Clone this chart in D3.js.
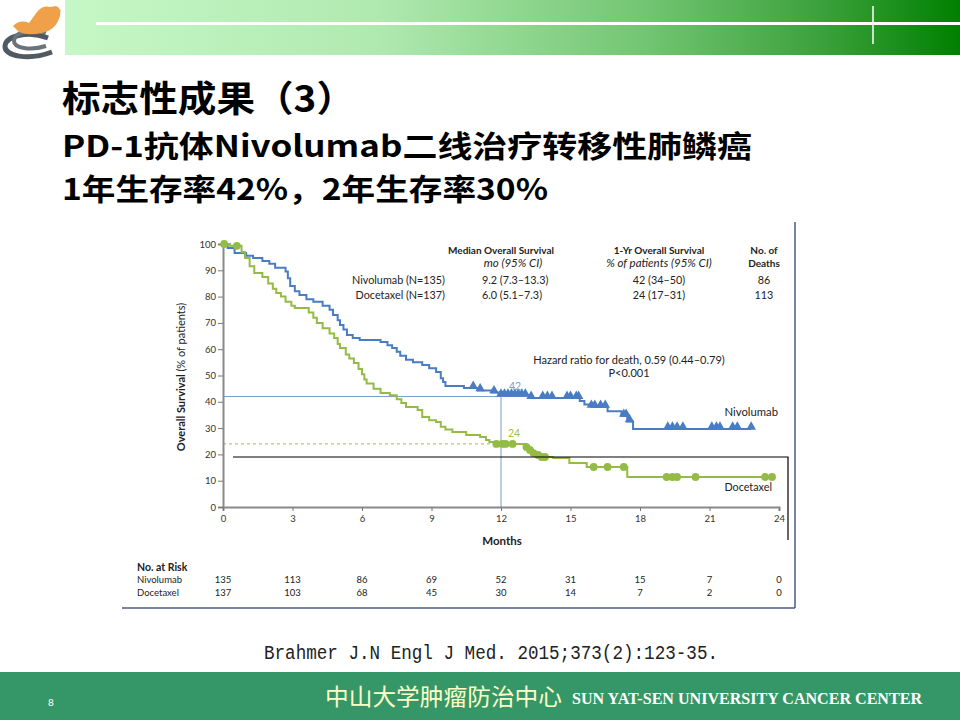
<!DOCTYPE html>
<html>
<head>
<meta charset="utf-8">
<script src="https://cdn.jsdelivr.net/npm/d3@7"></script>
<style>
  body { margin: 0; background: #fff; }
  svg { display: block; }
</style>
</head>
<body>
<div id="chart"></div>
<script>
// 数据：生存曲线阶梯点 [月, %]
const nivoSteps = [[0,100],[0.2,98.5],[0.5,96.6],[1.0,95.5],[1.3,94.7],[1.7,93.5],[2.0,92.5],[2.25,91],[2.7,89.5],[2.8,87],[2.9,84],[3.1,82],[3.3,80.6],[3.6,79],[3.9,78],[4.3,76.5],[4.6,75],[4.75,73],[4.95,71],[5.05,69.2],[5.2,67.5],[5.35,65.4],[5.6,64.3],[5.9,63.5],[6.8,62.7],[7.1,61.5],[7.3,60.5],[7.5,59],[7.65,57.5],[7.9,56],[8.2,55],[8.6,54],[8.9,52.8],[9.2,51.3],[9.4,49],[9.5,47.5],[9.6,46],[10.4,45.2],[11.0,44.3],[11.6,43.5],[11.9,42.3],[13.2,41.4],[15.4,40.3],[15.6,39],[15.9,38],[16.6,36.4],[17.2,34.6],[17.45,32.5],[17.7,29.7]];
const nivoEnd = 22.8;
const nivoCensor = [10.8,11.1,11.7,12.0,12.15,12.3,12.45,12.6,12.75,12.9,13.05,13.3,13.8,14.0,14.2,14.85,15.0,15.25,15.35,15.9,16.05,16.3,16.5,17.3,17.4,17.55,19.2,19.4,19.6,19.85,21.1,21.3,21.45,22.0,22.2,22.8];

const doceSteps = [[0,100],[0.3,99.3],[0.8,97],[0.95,94.7],[1.15,91.5],[1.35,89],[1.7,87.5],[1.95,85],[2.15,83],[2.3,81.4],[2.5,80],[2.7,78],[2.95,76.5],[3.1,75.7],[3.7,74],[3.9,72],[4.05,70],[4.3,68],[4.6,66],[4.8,64.3],[4.95,62],[5.05,60.5],[5.3,58],[5.45,56.5],[5.65,54.8],[5.85,52.5],[6.0,50.5],[6.1,48.5],[6.2,47],[6.5,45],[6.8,43.3],[7.2,42.5],[7.5,41],[7.7,39.5],[7.9,38],[8.4,36.9],[8.6,34.2],[8.9,33],[9.2,32.3],[9.4,30.5],[9.6,29.5],[9.9,28.5],[10.5,27.4],[11.1,26.6],[11.35,25.5],[11.5,24.7],[11.75,24],[13.1,22.8],[13.2,21.7],[13.35,20.5],[13.5,19.8],[13.65,19],[14.25,18.6],[14.95,16.7],[15.7,15.2],[17.45,11.4]];
const doceEnd = 23.7;
const doceCensor = [0.05,0.6,11.8,12.05,12.2,12.5,13.1,13.25,13.4,13.6,13.75,13.9,16.0,16.6,17.3,19.15,19.4,19.6,20.4,23.4,23.7];

// 轴刻度
const xTicks = [0,3,6,9,12,15,18,21,24];
const yTicks = [0,10,20,30,40,50,60,70,80,90,100];

// 风险人数
const riskGroups = ['Nivolumab','Docetaxel'];
const riskNivo = [135,113,86,69,52,31,15,7,0];
const riskDoce = [137,103,68,45,30,14,7,2,0];

// 图例表格
const legendRows = [
  { name: 'Nivolumab (N=135)', median: '9.2 (7.3–13.3)', oneYr: '42 (34–50)', deaths: '86' },
  { name: 'Docetaxel (N=137)', median: '6.0 (5.1–7.3)', oneYr: '24 (17–31)', deaths: '113' }
];
const oneYrRates = [42, 24];

const titleLines = ['标志性成果（3）', 'PD-1抗体Nivolumab二线治疗转移性肺鳞癌', '1年生存率42%，2年生存率30%'];

// svg领域设定
const svgWidth = 960;
const svgHeight = 720;
const svg = d3.select('#chart')
  .append('svg')
  .attr('width', svgWidth)
  .attr('height', svgHeight);

// 页眉渐变
const defs = svg.append('defs');
const grad = defs.append('linearGradient').attr('id', 'hdr');
[[0,'#c6f7c6'],[0.35,'#b0e9b0'],[0.65,'#72c572'],[0.85,'#3aa03a'],[1,'#008000']].forEach(s => {
  grad.append('stop').attr('offset', s[0]).attr('stop-color', s[1]);
});
svg.append('rect').attr('x', 65).attr('y', 0).attr('width', 895).attr('height', 55).attr('fill', 'url(#hdr)');
svg.append('rect').attr('x', 96).attr('y', 22).attr('width', 864).attr('height', 3).attr('fill', '#fff');
svg.append('line').attr('x1', 873).attr('x2', 873).attr('y1', 6).attr('y2', 44)
  .attr('stroke', '#fff').attr('stroke-width', 1.5);

// logo
const logo = svg.append('g');
logo.append('path')
  .attr('d', 'M48 38 C28 30 6 36 5 46 C4 56 28 61 52 52')
  .attr('fill', 'none').attr('stroke', '#505a62').attr('stroke-width', 5);
logo.append('path')
  .attr('d', 'M46 33 C30 27 14 33 14 41 C14 48 30 51 46 46')
  .attr('fill', 'none').attr('stroke', '#6a747c').attr('stroke-width', 4);
logo.append('path')
  .attr('d', 'M13 26 Q20 19 29 23 L37 12 Q43 5 50 7 L56 6 Q62 8 60 16 Q56 30 42 33 Q28 36 19 32 Z')
  .attr('fill', '#f0a048');

// 标题
const titleSpec = [
  { y: 112, size: 36, len: 293 },
  { y: 157, size: 29.5, len: 690 },
  { y: 200, size: 29.5, len: 486 }
];
svg.selectAll('.title')
  .data(titleLines)
  .enter()
  .append('text')
  .attr('class', 'title')
  .attr('x', 62)
  .attr('y', (d, i) => titleSpec[i].y)
  .attr('font-family', '"Noto Sans CJK SC", sans-serif')
  .attr('font-weight', 'bold')
  .attr('font-size', (d, i) => titleSpec[i].size)
  .attr('textLength', (d, i) => titleSpec[i].len)
  .attr('lengthAdjust', 'spacingAndGlyphs')
  .attr('fill', '#000')
  .text(d => d);

// 图框
svg.append('line').attr('x1', 122).attr('x2', 795).attr('y1', 608).attr('y2', 608)
  .attr('stroke', '#4a5886').attr('stroke-width', 1.5);
svg.append('line').attr('x1', 795).attr('x2', 795).attr('y1', 222).attr('y2', 608)
  .attr('stroke', '#4a5886').attr('stroke-width', 1.5);

// scale设定
const x = d3.scaleLinear().domain([0, 24]).range([223, 779]);
const y = d3.scaleLinear().domain([0, 100]).range([507, 244]);
const font = 'Lato, "Open Sans", sans-serif';
const blue = '#4a7cc4';
const green = '#93bb45';

// 参考线
svg.append('line').attr('x1', x(0)).attr('x2', x(12)).attr('y1', y(oneYrRates[0])).attr('y2', y(oneYrRates[0]))
  .attr('stroke', '#7b9ccc').attr('stroke-width', 1);
svg.append('line').attr('x1', x(12)).attr('x2', x(12)).attr('y1', y(oneYrRates[0])).attr('y2', y(0))
  .attr('stroke', '#7b9ccc').attr('stroke-width', 1);
svg.append('line').attr('x1', x(0)).attr('x2', x(12)).attr('y1', y(oneYrRates[1])).attr('y2', y(oneYrRates[1]))
  .attr('stroke', '#a0b860').attr('stroke-width', 1).attr('stroke-dasharray', '3,3');

// 轴
const yAxis = svg.append('g')
  .attr('transform', `translate(${x(0)},0)`)
  .call(d3.axisLeft(y).tickValues(yTicks).tickSize(5).tickPadding(2));
const xAxis = svg.append('g')
  .attr('transform', `translate(0,${y(0)})`)
  .call(d3.axisBottom(x).tickValues(xTicks).tickSize(4).tickPadding(4));
[yAxis, xAxis].forEach(ax => {
  ax.select('.domain').attr('stroke', '#8a8a8a').attr('stroke-width', 2);
  ax.selectAll('.tick line').attr('stroke', '#777');
  ax.selectAll('.tick text').attr('fill', '#333').attr('font-family', font).attr('font-size', 9.5);
});

svg.append('text').attr('x', 502).attr('y', 545).attr('text-anchor', 'middle')
  .attr('font-family', font).attr('font-size', 11.5).attr('font-weight', 'bold').attr('fill', '#222')
  .text('Months');
const yl = svg.append('text').attr('transform', 'translate(185,377) rotate(-90)').attr('text-anchor', 'middle')
  .attr('font-family', font).attr('font-size', 11).attr('fill', '#222');
yl.append('tspan').attr('font-weight', 'bold').text('Overall Survival ');
yl.append('tspan').text('(% of patients)');

// 曲线
const stepAt = (steps, t) => {
  let v = steps[0][1];
  steps.forEach(s => { if (s[0] <= t) v = s[1]; });
  return v;
};
const line = d3.line().x(d => x(d[0])).y(d => y(d[1])).curve(d3.curveStepAfter);
const series = [
  { steps: nivoSteps, end: nivoEnd, censor: nivoCensor, color: blue, mark: d3.symbolTriangle },
  { steps: doceSteps, end: doceEnd, censor: doceCensor, color: green, mark: d3.symbolCircle }
];
series.forEach(s => {
  const pts = s.steps.concat([[s.end, s.steps[s.steps.length - 1][1]]]);
  svg.append('path').attr('d', line(pts)).attr('fill', 'none')
    .attr('stroke', s.color).attr('stroke-width', 2);
  svg.selectAll(null)
    .data(s.censor)
    .enter()
    .append('path')
    .attr('d', d3.symbol().type(s.mark).size(s.mark === d3.symbolCircle ? 48 : 40))
    .attr('transform', d => `translate(${x(d)},${y(stepAt(s.steps, d)) - (s.mark === d3.symbolCircle ? 0 : 2)})`)
    .attr('fill', s.color);
});

// 一年生存率标注
svg.append('text').attr('x', x(12) + 14).attr('y', y(oneYrRates[0]) - 7).attr('text-anchor', 'middle')
  .attr('font-family', font).attr('font-size', 10.5).attr('fill', '#7b9ccc').text(oneYrRates[0]);
svg.append('text').attr('x', x(12) + 13).attr('y', y(oneYrRates[1]) - 7).attr('text-anchor', 'middle')
  .attr('font-family', font).attr('font-size', 10.5).attr('fill', '#a0c050').text(oneYrRates[1]);
svg.append('text').attr('x', 778).attr('y', 416).attr('text-anchor', 'end')
  .attr('font-family', font).attr('font-size', 11.3).attr('fill', '#222').text('Nivolumab');
svg.append('text').attr('x', 772).attr('y', 491).attr('text-anchor', 'end')
  .attr('font-family', font).attr('font-size', 10.8).attr('fill', '#222').text('Docetaxel');

// 图例表格
const tbl = svg.append('g').attr('font-family', font).attr('font-size', 10.8).attr('fill', '#222');
const hdr = [
  { x: 501, l1: 'Median Overall Survival', l2: 'mo (95% CI)', dx2: 12 },
  { x: 659, l1: '1-Yr Overall Survival', l2: '% of patients (95% CI)', dx2: 0 },
  { x: 764, l1: 'No. of', l2: 'Deaths', dx2: 0, bold2: true }
];
hdr.forEach(h => {
  tbl.append('text').attr('x', h.x).attr('y', 254).attr('text-anchor', 'middle')
    .attr('font-size', 10).attr('font-weight', 'bold').text(h.l1);
  tbl.append('text').attr('x', h.x + h.dx2).attr('y', 267).attr('text-anchor', 'middle')
    .attr('font-size', h.bold2 ? 10 : 11.5)
    .attr('font-weight', h.bold2 ? 'bold' : 'normal')
    .attr('font-style', h.bold2 ? 'normal' : 'italic').text(h.l2);
});
legendRows.forEach((r, i) => {
  const yy = 284 + i * 15;
  tbl.append('text').attr('x', 445).attr('y', yy).attr('text-anchor', 'end').text(r.name);
  tbl.append('text').attr('x', 482).attr('y', yy).text(r.median);
  tbl.append('text').attr('x', 659).attr('y', yy).attr('text-anchor', 'middle').text(r.oneYr);
  tbl.append('text').attr('x', 764).attr('y', yy).attr('text-anchor', 'middle').text(r.deaths);
});
tbl.append('text').attr('x', 629).attr('y', 364).attr('text-anchor', 'middle')
  .attr('font-size', 11).text('Hazard ratio for death, 0.59 (0.44–0.79)');
tbl.append('text').attr('x', 629).attr('y', 377).attr('text-anchor', 'middle')
  .attr('font-size', 11).text('P<0.001');

// 黑色框线
svg.append('polyline').attr('points', '233,457 788,457 788,540')
  .attr('fill', 'none').attr('stroke', '#000').attr('stroke-width', 1.2);

// 风险人数表
const risk = svg.append('g').attr('font-family', font).attr('font-size', 9.5).attr('fill', '#222');
risk.append('text').attr('x', 137).attr('y', 571).attr('font-weight', 'bold').attr('font-size', 10.5).text('No. at Risk');
[riskNivo, riskDoce].forEach((row, i) => {
  const yy = 583 + i * 13;
  risk.append('text').attr('x', 137).attr('y', yy).text(riskGroups[i]);
  risk.selectAll(null)
    .data(row)
    .enter()
    .append('text')
    .attr('x', (d, j) => x(xTicks[j]))
    .attr('y', yy)
    .attr('text-anchor', 'middle')
    .text(d => d);
});

// 文献
svg.append('text').attr('x', 264).attr('y', 659)
  .attr('font-family', '"Liberation Mono", monospace').attr('font-size', 20)
  .attr('textLength', 454).attr('lengthAdjust', 'spacingAndGlyphs').attr('fill', '#222')
  .text('Brahmer J.N Engl J Med. 2015;373(2):123-35.');

// 页脚
svg.append('rect').attr('x', 0).attr('y', 672).attr('width', 960).attr('height', 48).attr('fill', '#359767');
svg.append('text').attr('x', 48).attr('y', 706).attr('font-family', font).attr('font-size', 10)
  .attr('fill', '#fff').text('8');
svg.append('text').attr('x', 325).attr('y', 705)
  .attr('font-family', '"Noto Sans CJK SC", sans-serif').attr('font-size', 23)
  .attr('textLength', 237).attr('lengthAdjust', 'spacingAndGlyphs').attr('fill', '#ffffc8')
  .text('中山大学肿瘤防治中心');
svg.append('text').attr('x', 572).attr('y', 704)
  .attr('font-family', '"Liberation Serif", serif').attr('font-size', 17).attr('font-weight', 'bold')
  .attr('textLength', 350).attr('lengthAdjust', 'spacingAndGlyphs').attr('fill', '#fff')
  .text('SUN YAT-SEN UNIVERSITY CANCER CENTER');
</script>
</body>
</html>
